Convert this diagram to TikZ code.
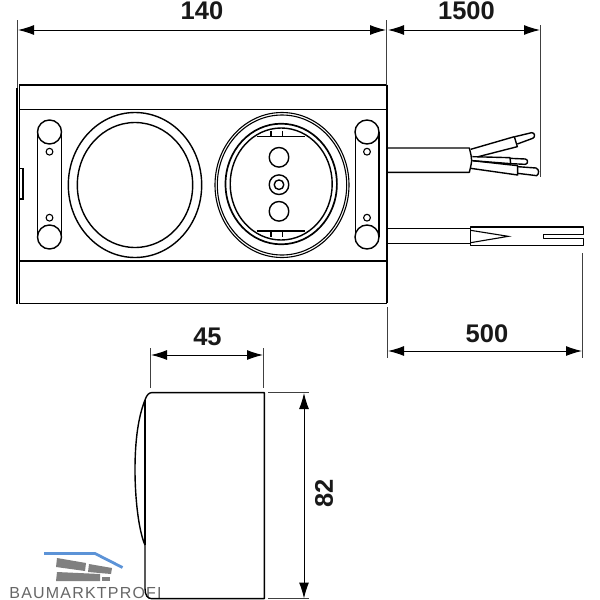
\documentclass[tikz,border=0pt]{standalone}
\usepackage{fontspec}
\setmainfont{Liberation Sans}
\usetikzlibrary{arrows.meta}
\tikzset{
  obj/.style={line width=1.4pt,black,line join=round},
  thin obj/.style={line width=1.1pt,black},
  ext/.style={line width=.8pt,black!75},
  dim/.style={line width=1pt,black,{Latex[length=16pt,width=10pt]}-{Latex[length=16pt,width=10pt]}},
  dimtext/.style={font=\fontsize{25.5}{25.5}\selectfont\bfseries,inner sep=0pt,text=black!90},
  logo/.style={font=\fontsize{16}{16}\selectfont,inner sep=0pt,text=black!60}
}
\begin{document}
\begin{tikzpicture}[x=1pt,y=-1pt]
\useasboundingbox (0,0) rectangle (600,600);

% Watermark
\draw[line width=2.8pt,blue!55!cyan!75!black!85,line join=round,opacity=.75] (44,553.5) -- (95,553.5) -- (122.5,567.5);
\fill[black!50] (57,558) -- (86,563) -- (85,571) -- (56,567) -- cycle;
\fill[black!50] (89,564) -- (112,568) -- (111,574) -- (88,572) -- cycle;
\fill[black!50] (57,572) -- (100,574) -- (100,581) -- (56,581) -- cycle;
\fill[black!50] (102,577) -- (110,577) -- (110,581) -- (102,581) -- cycle;
\node[logo,anchor=center] (brand) at (85.5,592.8) {B\kern1.2pt A\kern1.2pt U\kern1.2pt M\kern1.2pt A\kern1.2pt R\kern1.2pt K\kern1.2pt T\kern1.2pt P\kern1.2pt R\kern1.2pt O\kern1.2pt F\kern1.2pt I};

% Housing
\draw[line width=2pt,black] (17,88) -- (17,303.5);
\draw[line width=1.6pt,black] (19.5,84.7) rectangle (386.5,303.3);
\draw[line width=2pt,black] (387,84.7) -- (387,303.3);
\draw[obj] (19.5,109.5) -- (386,109.5);
\draw[obj] (19.5,261) -- (386,261);
\draw[thin obj] (19.5,168.7) -- (23,168.7) -- (23,199) -- (19.5,199);

% Brackets
\foreach \cx in {49.5,367}{
  \draw[obj] (\cx,132) circle (12);
  \draw[obj] (\cx,237) circle (12);
  \draw[obj] (\cx-11.8,132) -- (\cx-11.8,237);
  \draw[obj] (\cx+11.8,132) -- (\cx+11.8,237);
  \draw[thin obj] (\cx,151.7) circle (3.4);
  \draw[thin obj] (\cx,217.7) circle (3.4);
}

% Left ring
\draw[obj] (135,185) ellipse (66.7 and 72.5);
\draw[obj] (135,185) ellipse (57.7 and 62.5);

% Socket
\draw[thin obj] (282,185) ellipse (67 and 72.5);
\draw[thin obj] (282,185) ellipse (64.7 and 70);
\draw[line width=1.7pt,black] (281.2,184) ellipse (55.7 and 60.3);
\draw[obj] (281.2,184) ellipse (51 and 56);
\begin{scope}[shift={(200,70)},scale=1/3]
  \draw[thin obj] (170,200) -- (315,200);
  \draw[thin obj] (213,182) -- (213,200);
  \draw[thin obj] (247,182) -- (247,200);
  \draw[thin obj] (170,483) -- (315,483);
  \draw[thin obj] (213,483) -- (213,500);
  \draw[thin obj] (247,483) -- (247,500);
\end{scope}
\draw[obj] (279,157.3) circle (9.8);
\draw[obj] (279,211.3) circle (9.8);
\draw[obj] (279,184.7) circle (9.8);
\draw[obj] (279,184.7) circle (4.8);

% Cables
\begin{scope}[shift={(380,120)},scale=1/3]
  \draw[obj] (22,84) -- (268,84) .. controls (277,120) .. (268,157) -- (22,157);
  \draw[obj] (272,88) -- (403,50) -- (412,80) -- (295,110);
  \draw[obj] (405,50) -- (455,38) .. controls (466,38) and (466,52) .. (458,55) -- (412,72);
  \draw[obj] (277,110) -- (390,113) -- (392,131) -- (277,122);
  \draw[obj] (390,115) -- (436,117) .. controls (445,119) and (445,131) .. (436,133) -- (392,131);
  \draw[obj] (272,145) -- (413,165) -- (413,137) -- (277,122);
  \draw[obj] (413,140) -- (468,144) .. controls (478,148) and (478,162) .. (470,167) -- (413,160);
  \draw[obj] (22,325) -- (272,325);
  \draw[obj] (22,371) -- (272,371);
  \draw[obj] (272,321) -- (610,321) -- (610,343) -- (490,343) -- (490,355) -- (610,355) -- (610,377) -- (272,377) -- cycle;
  \draw[thin obj] (272,331) -- (385,349) -- (272,368);
\end{scope}

% Side view
\begin{scope}[shift={(130,320)},scale=1/3]
  \draw[obj] (65,218) -- (403,218) -- (403,836) -- (65,836) .. controls (52,836) and (45,825) .. (45,805) -- (45,675) .. controls (25,630) and (15,530) .. (15,450) .. controls (15,360) and (25,290) .. (45,240) .. controls (50,225) and (57,218) .. (65,218);
  \draw[obj] (45,240) -- (45,675);
\end{scope}

% Dimension lines
\coordinate (a1) at (17,20); \coordinate (a2) at (17,88);
\coordinate (b1) at (386.5,20); \coordinate (b2) at (386.5,85);
\coordinate (c1) at (540,25); \coordinate (c2) at (540,177);
\coordinate (d1) at (387,307); \coordinate (d2) at (387,358);
\coordinate (e1) at (582,253); \coordinate (e2) at (582,358);
\coordinate (f1) at (150.7,348); \coordinate (f2) at (150.7,388);
\coordinate (g1) at (263.5,348); \coordinate (g2) at (263.5,388);
\coordinate (h1) at (268,392.7); \coordinate (h2) at (309,392.7);
\coordinate (i1) at (268,598.7); \coordinate (i2) at (309,598.7);
\foreach \p/\q in {a1/a2,b1/b2,c1/c2,d1/d2,e1/e2,f1/f2,g1/g2,h1/h2,i1/i2}{\draw[ext] (\p) -- (\q);}

\coordinate (s1) at (18,30); \coordinate (s2) at (386,30);
\coordinate (s3) at (388,30); \coordinate (s4) at (540,30);
\coordinate (s5) at (388,351); \coordinate (s6) at (582,351);
\coordinate (s7) at (151,355); \coordinate (s8) at (263,355);
\coordinate (s9) at (304,393); \coordinate (s10) at (304,598.5);
\draw[dim] (s1) -- (s2);
\draw[dim] (s3) -- (s4);
\draw[dim] (s5) -- (s6);
\draw[dim] (s7) -- (s8);
\draw[dim] (s9) -- (s10);

\node[dimtext] (t140) at (202,10.5) {140};
\node[dimtext] (t1500) at (466.5,10.5) {1500};
\node[dimtext] (t500) at (487,334) {500};
\node[dimtext] (t45) at (207.5,337) {45};
\node[dimtext,rotate=90] (t82) at (324,493) {82};
\end{tikzpicture}
\end{document}
